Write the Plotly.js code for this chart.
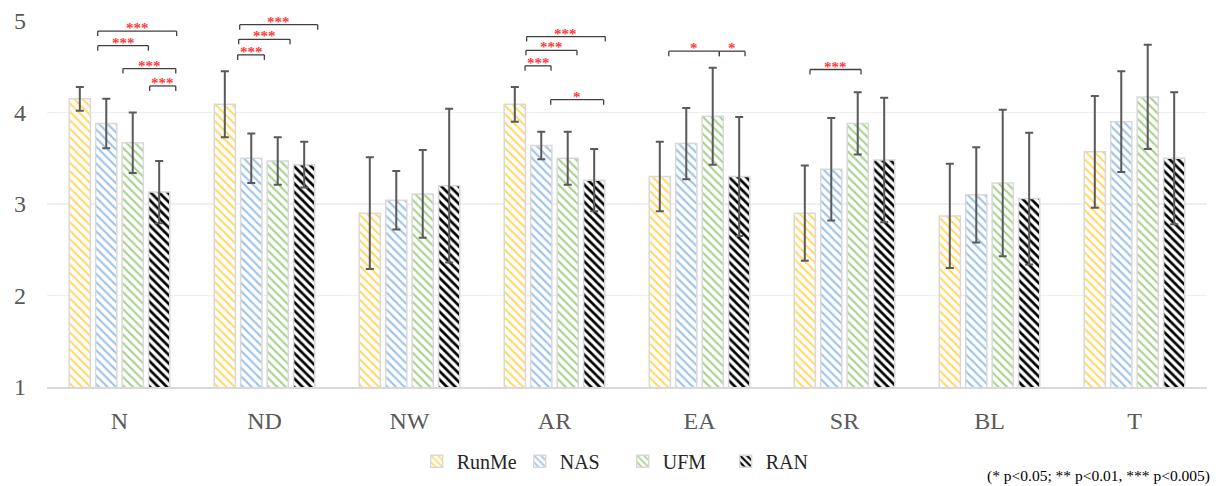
<!DOCTYPE html>
<html>
<head>
<meta charset="utf-8">
<script src="https://cdn.plot.ly/plotly-3.0.1.min.js"></script>
<style>html,body{margin:0;padding:0;background:#fff}#chart{width:1222px;height:486px}</style>
</head>
<body>
<div id="chart"></div>
<script>
// ---- data ----
var categories = ['N','ND','NW','AR','EA','SR','BL','T'];
var seriesNames = ['RunMe','NAS','UFM','RAN'];
var runme    = [4.15, 4.09, 2.90, 4.09, 3.30, 2.90, 2.87, 3.57];
var runmeErr = [0.13, 0.36, 0.61, 0.19, 0.38, 0.52, 0.57, 0.61];
var nas      = [3.88, 3.50, 3.04, 3.64, 3.66, 3.38, 3.10, 3.90];
var nasErr   = [0.27, 0.27, 0.32, 0.15, 0.39, 0.56, 0.52, 0.55];
var ufm      = [3.67, 3.47, 3.11, 3.50, 3.96, 3.88, 3.23, 4.17];
var ufmErr   = [0.33, 0.26, 0.48, 0.29, 0.53, 0.34, 0.80, 0.57];
var ran      = [3.13, 3.43, 3.20, 3.26, 3.30, 3.48, 3.06, 3.50];
var ranErr   = [0.34, 0.25, 0.84, 0.34, 0.65, 0.68, 0.72, 0.72];
var yTicks   = [1, 2, 3, 4, 5];

// significance brackets: group index, start/end offsets (category units), level, label
var brGroup = [0, 0, 0, 0, 1, 1, 1, 3, 3, 3, 3, 4, 4, 5];
var brFrom  = [-0.150, -0.150, 0.024, 0.208, -0.171, -0.178, -0.185, -0.192, -0.197, -0.203, -0.026, -0.212, 0.137, -0.238];
var brTo    = [0.394, 0.199, 0.388, 0.388, 0.367, 0.176, -0.001, 0.350, 0.155, -0.024, 0.339, 0.137, 0.314, 0.114];
var brLevel = [4.89, 4.73, 4.48, 4.29, 4.96, 4.80, 4.63, 4.83, 4.68, 4.51, 4.14, 4.67, 4.67, 4.47];
var brLabel = ['***','***','***','***','***','***','***','***','***','***','*','*','*','***'];
var footnote = '(* p<0.05; ** p<0.01, *** p<0.005)';

// ---- styles ----
var fg = ['#FFD966', '#9DC3E6', '#A9D18E', '#000000'];
var vals = [runme, nas, ufm, ran];
var errs = [runmeErr, nasErr, ufmErr, ranErr];
var FONT = 'Liberation Serif';

var traces = seriesNames.map(function (name, i) {
  return {
    type: 'bar',
    name: name,
    x: categories,
    y: vals[i],
    base: 0,
    marker: {
      color: '#ffffff',
      line: {color: '#D9D9D9', width: 1.5},
      pattern: {shape: '\\', fgcolor: fg[i], bgcolor: '#ffffff', size: 6, solidity: i === 3 ? 0.45 : 0.36, fillmode: 'replace'}
    },
    error_y: {type: 'data', array: errs[i], visible: true, color: '#595959', thickness: 2, width: 4}
  };
});

var shapes = [];
var annotations = [];
var tick = 0.055;
for (var k = 0; k < brGroup.length; k++) {
  var x0 = brGroup[k] + brFrom[k], x1 = brGroup[k] + brTo[k], y = brLevel[k];
  var ls = {color: '#404040', width: 1.3};
  shapes.push({type: 'line', xref: 'x', yref: 'y', x0: x0, x1: x1, y0: y, y1: y, line: ls});
  shapes.push({type: 'line', xref: 'x', yref: 'y', x0: x0, x1: x0, y0: y, y1: y - tick, line: ls});
  shapes.push({type: 'line', xref: 'x', yref: 'y', x0: x1, x1: x1, y0: y, y1: y - tick, line: ls});
  annotations.push({xref: 'x', yref: 'y', x: (x0 + x1) / 2, y: y, text: '<b>' + brLabel[k] + '</b>', showarrow: false,
    xanchor: 'center', yanchor: 'bottom', yshift: -6, borderpad: 0,
    font: {family: FONT, size: 15, color: '#FF3B3B'}});
}
annotations.push({xref: 'paper', yref: 'paper', x: 1.004, y: -0.244, xanchor: 'right', yanchor: 'middle',
  text: footnote, showarrow: false, font: {family: FONT, size: 15.5, color: '#000000'}});

var layout = {
  width: 1222, height: 486,
  margin: {l: 47, r: 15, t: 21, b: 99, pad: 0, autoexpand: false},
  paper_bgcolor: '#ffffff', plot_bgcolor: '#ffffff',
  barmode: 'group', bargap: 0.27, bargroupgap: 0.2,
  showlegend: true,
  legend: {orientation: 'h', xref: 'container', yref: 'container', x: 0.341, xanchor: 'left', y: 0.051, yanchor: 'middle',
    entrywidth: 58, entrywidthmode: 'pixels',
    font: {family: FONT, size: 20, color: '#262626'}, bgcolor: 'rgba(0,0,0,0)'},
  xaxis: {type: 'category', showgrid: false, showline: true, linecolor: '#D9D9D9', linewidth: 1.5,
    ticks: '', ticklabelstandoff: 12, tickfont: {family: FONT, size: 24, color: '#595959'}, fixedrange: true},
  yaxis: {range: [1, 5], tickvals: yTicks, showgrid: true, gridcolor: '#EFEFEF', gridwidth: 1.2,
    zeroline: false, showline: false, ticks: '', ticklabelstandoff: 20,
    tickfont: {family: FONT, size: 24, color: '#595959'}, fixedrange: true},
  shapes: shapes,
  annotations: annotations
};

Plotly.newPlot('chart', traces, layout, {displayModeBar: false, staticPlot: true});
</script>
</body>
</html>
